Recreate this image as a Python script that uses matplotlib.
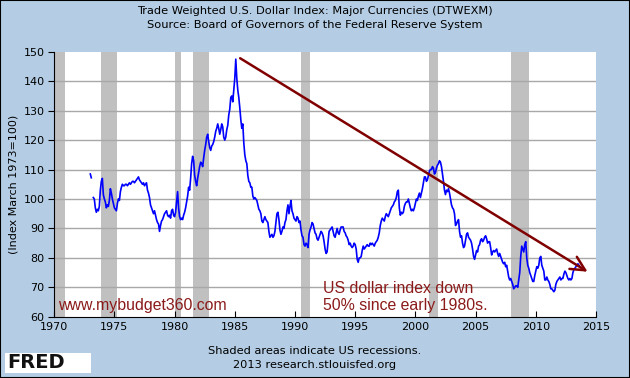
import numpy as np
import matplotlib.pyplot as plt
from matplotlib.patches import FancyArrowPatch, Rectangle

# monthly index values, one row per year (Jan..Dec)
first_year = 1973
dollar_index = [
    [108.5, 107.2, np.nan, 100.5, 100, 97, 95.5, 96.5, 96, 97.5, 103, 106],      # 1973
    [107, 101.5, 100, 99, 97, 98, 97.5, 99.5, 103.5, 102, 100, 98.5],            # 1974
    [97, 96.5, 96, 98.5, 100, 99.5, 102.5, 104, 105, 104.5, 104.5, 105],         # 1975
    [105, 104.5, 105, 105.5, 105, 105.5, 106, 106, 105.5, 106, 106.5, 107],      # 1976
    [107.5, 106.5, 106, 105.5, 105, 105.5, 104.5, 105, 105.5, 103, 102, 100.5],  # 1977
    [98, 97, 96, 95, 96, 94.5, 93, 92, 91.5, 89, 91, 92.5],                      # 1978
    [93, 94, 95, 95.5, 96, 94.5, 94, 94.5, 93.5, 96, 96.5, 94.5],                # 1979
    [94, 95.5, 99, 102.5, 97, 94, 93, 93.5, 93, 94.5, 95.5, 97],                 # 1980
    [99, 101, 104, 103, 107, 112, 114.5, 113, 108, 106, 104.5, 107],             # 1981
    [109, 111, 112.5, 112, 111, 114, 116.5, 118.5, 121, 122, 119.5, 117.5],      # 1982
    [116.5, 118, 118.5, 119.5, 121, 123, 124, 125.5, 124, 122, 123.5, 125.5],    # 1983
    [124.5, 121, 120, 121, 123.5, 125, 128.5, 130.5, 134.5, 135, 133, 137],      # 1984
    [141, 147.5, 141, 137, 134.5, 131, 127, 124, 125.5, 119, 115, 113],          # 1985
    [112, 108, 106, 105.5, 104, 104, 101, 100, 100.5, 100, 99.5, 98],            # 1986
    [96.5, 96, 95, 92.5, 92, 93, 94, 93, 92.5, 92, 89, 87],                      # 1987
    [87.5, 88, 87, 87.5, 89, 92, 95, 95.5, 93, 89.5, 88, 89],                    # 1988
    [90.5, 90, 92, 93, 96, 98, 95, 97.5, 99.5, 96, 95, 93.5],                    # 1989
    [93, 92.5, 94, 93.5, 92, 92.5, 89.5, 87.5, 87, 84.5, 84, 85],                # 1990
    [84.5, 83.5, 88, 89.5, 90.5, 92, 91.5, 90, 88.5, 88, 86.5, 86],              # 1991
    [87, 88, 89, 88.5, 87.5, 85.5, 83, 81.5, 82, 85.5, 89, 89.5],                # 1992
    [90, 90.5, 89, 87.5, 87, 88.5, 90, 88.5, 88, 89.5, 90.5, 90.5],              # 1993
    [90.5, 89, 88.5, 87.5, 87, 86, 84.5, 85, 84, 83.5, 84, 85],                  # 1994
    [84.5, 83, 79.5, 78.5, 80, 80, 80.5, 82.5, 84, 83, 83.5, 84],                # 1995
    [84.5, 84, 84, 85, 84.5, 85, 84.5, 84, 85, 85.5, 86, 87],                    # 1996
    [88.5, 91, 92.5, 93.5, 93, 92.5, 94, 95, 94.5, 94, 95, 96],                  # 1997
    [97, 97.5, 98, 99, 99.5, 100.5, 102.5, 103, 97, 94.5, 95.5, 95],             # 1998
    [95.5, 97.5, 98.5, 99, 99, 100, 98.5, 97, 96, 96.5, 96, 97],                 # 1999
    [98.5, 100, 99.5, 101, 102, 100.5, 102, 103.5, 105.5, 107.5, 107.5, 106],    # 2000
    [106.5, 108, 109.5, 110, 110, 111, 110.5, 108.5, 109, 110.5, 111.5, 112],    # 2001
    [113, 112.5, 111, 108.5, 106, 103, 101.5, 103, 102.5, 103.5, 102, 100],      # 2002
    [98, 97, 96.5, 95, 91, 91.5, 92.5, 93, 89, 87, 87.5, 85],                    # 2003
    [83.5, 84, 86, 88, 88.5, 87, 86.5, 86, 85, 83, 80.5, 79.5],                  # 2004
    [81, 82.5, 82, 84, 84.5, 86, 86.5, 85.5, 86, 87, 87.5, 86.5],                # 2005
    [85, 85.5, 85.5, 83.5, 81, 82, 82.5, 82, 82.5, 83, 81.5, 80.5],              # 2006
    [81.5, 80.5, 79.5, 78.5, 78, 78.5, 77, 77.5, 75.5, 73.5, 72.5, 73],          # 2007
    [72, 71, 69.5, 70, 70.5, 70.5, 70, 72.5, 75, 80.5, 84, 83],                  # 2008
    [82, 84.5, 85.5, 80, 77.5, 76.5, 75, 74, 73, 72, 72, 74],                    # 2009
    [75.5, 77, 76.5, 77.5, 80, 80.5, 77.5, 76.5, 75.5, 72.5, 72.5, 73.5],        # 2010
    [72.5, 72, 71, 69.5, 69.5, 69, 68.5, 69, 71, 72, 72.5, 73],                  # 2011
    [73.5, 72.5, 73, 73, 74.5, 75.5, 75, 74, 73, 72.5, 73, 72.5],                # 2012
    [73, 75, 76, 76.5, 77, 77.5, 78, 77.5, 77],                                  # 2013
]

# NBER recessions (start, end) as decimal years
recessions = [(1969.92, 1970.88), (1973.88, 1975.21), (1980.0, 1980.54),
              (1981.54, 1982.88), (1990.54, 1991.21), (2001.17, 2001.88),
              (2007.92, 2009.46)]

# trend arrow drawn on the original
arrow_start = (1985.25, 148.3)
arrow_end = (2014.5, 74.8)

years = []
values = []
for i, row in enumerate(dollar_index):
    for m, v in enumerate(row):
        years.append(first_year + i + m / 12)
        values.append(v)

bg = '#b4cde4'
fig = plt.figure(figsize=(6.3, 3.78), dpi=100, facecolor=bg)
ax = fig.add_axes([0.086, 0.162, 0.86, 0.701])
ax.set_facecolor('white')

for a, b in recessions:
    ax.axvspan(a, b, color='#c0c0c0', lw=0, zorder=1)

ax.set_xlim(1970, 2015)
ax.set_ylim(60, 150)
ax.set_xticks(range(1970, 2016, 5))
ax.set_yticks(range(60, 151, 10))
for y in range(70, 150, 10):
    ax.axhline(y, color='#a8a8a8', lw=1, zorder=2)

ax.plot(years, values, color='#0000ff', lw=1.2, zorder=3)

arr = FancyArrowPatch(arrow_start, arrow_end, arrowstyle='->,head_length=6,head_width=3',
                      color='#800000', lw=1.8, zorder=4, mutation_scale=1.7)
ax.add_patch(arr)

ax.spines['top'].set_visible(False)
ax.spines['right'].set_visible(False)
ax.tick_params(axis='x', direction='in', length=4, labelsize=8, pad=4)
ax.tick_params(axis='y', direction='out', length=4, labelsize=8, pad=3)
ax.set_ylabel('(Index March 1973=100)', fontsize=8)
ax.yaxis.set_label_coords(-0.066, 0.5)

wm = dict(color='#8b1a1a', fontsize=11.4, family='Liberation Sans', zorder=5)
ax.text(1970.35, 61.3, 'www.mybudget360.com', va='bottom', **wm)
ax.text(1992.3, 61.3, 'US dollar index down\n50% since early 1980s.', va='bottom',
        linespacing=1.2, **wm)

fig.text(0.5, 0.972, 'Trade Weighted U.S. Dollar Index: Major Currencies (DTWEXM)',
         ha='center', va='center', fontsize=8.2)
fig.text(0.5, 0.935, 'Source: Board of Governors of the Federal Reserve System',
         ha='center', va='center', fontsize=8.2)
fig.text(0.5, 0.071, 'Shaded areas indicate US recessions.', ha='center', va='center', fontsize=8.2)
fig.text(0.5, 0.034, '2013 research.stlouisfed.org', ha='center', va='center', fontsize=8.2)

fig.patches.append(Rectangle((0.008, 0.013), 0.137, 0.054, transform=fig.transFigure,
                             facecolor='white', edgecolor='none'))
fig.text(0.012, 0.040, 'FRED', ha='left', va='center', fontsize=14, fontweight='bold',
         color='#111111')

fig.patches.append(Rectangle((0, 0), 1, 1, transform=fig.transFigure, fill=False,
                             edgecolor='black', lw=1.5))

fig.savefig('out.png', dpi=100, facecolor=bg)
